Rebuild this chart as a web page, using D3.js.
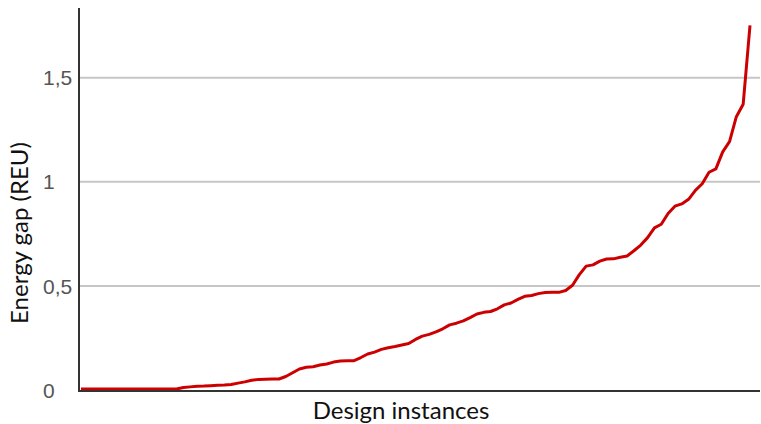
<!DOCTYPE html>
<html>
<head>
<meta charset="utf-8">
<script src="https://cdn.jsdelivr.net/npm/d3@7"></script>
<style>
  body { margin: 0; background: #fff; }
  svg { display: block; }
</style>
</head>
<body>
<svg id="chart"></svg>
<script>
// energy gap per design instance, sorted ascending
const instances = d3.range(1, 100)
const energyGap = [
  0.005, 0.005, 0.005, 0.005, 0.005, 0.005, 0.005, 0.005, 0.005, 0.005,
  0.005, 0.005, 0.005, 0.005, 0.005, 0.012, 0.015, 0.018, 0.019, 0.021,
  0.023, 0.024, 0.026, 0.033, 0.039, 0.047, 0.051, 0.052, 0.053, 0.053,
  0.065, 0.083, 0.101, 0.109, 0.112, 0.120, 0.125, 0.134, 0.139, 0.140,
  0.141, 0.156, 0.173, 0.182, 0.195, 0.203, 0.209, 0.216, 0.223, 0.243,
  0.259, 0.267, 0.279, 0.294, 0.313, 0.321, 0.332, 0.348, 0.365, 0.373,
  0.377, 0.390, 0.409, 0.418, 0.435, 0.450, 0.454, 0.463, 0.468, 0.469,
  0.469, 0.478, 0.503, 0.554, 0.595, 0.601, 0.619, 0.629, 0.630, 0.638,
  0.644, 0.669, 0.696, 0.732, 0.779, 0.796, 0.848, 0.883, 0.894, 0.916,
  0.959, 0.991, 1.046, 1.062, 1.144, 1.193, 1.313, 1.373, 1.752
]
const yTicks = [0, 0.5, 1, 1.5]
const xTitle = "Design instances"
const yTitle = "Energy gap (REU)"

const W = 761, H = 424
const margin = {top: 8, right: 1, bottom: 34, left: 79}
const width = W - margin.left - margin.right,
      height = H - margin.top - margin.bottom

const fmt = d => String(d).replace(".", ",")//comma decimals like the original

const x = d3.scaleLinear()
    .domain([1, instances.length])
    .range([2, width - 10])
const y = d3.scaleLinear()
    .domain([0, 1.835])
    .range([height, 0])

const svg = d3.select("#chart")
    .attr("width", W)
    .attr("height", H)
const chart = svg.append("g")
    .attr("transform", "translate(" + margin.left + "," + margin.top + ")")

// gridlines
chart.append("g")
  .selectAll("line")
  .data(yTicks.filter(d => d > 0))
  .enter().append("line")
    .attr("x1", 0)
    .attr("x2", width)
    .attr("y1", d => y(d))
    .attr("y2", d => y(d))
    .attr("stroke", "#c6c6c6")
    .attr("stroke-width", 2)

// y tick labels, left aligned like the source
const yAxis = d3.axisLeft(y).tickValues(yTicks).tickFormat(fmt).tickSize(0)
const gy = chart.append("g").call(yAxis)
gy.select(".domain").remove()
gy.selectAll("text")
    .attr("x", 43 - margin.left)
    .attr("text-anchor", "start")
    .attr("dy", "0.34em")
    .style("font-family", "'Liberation Sans', Arial, sans-serif")
    .style("font-size", "21px")
    .style("fill", "#555")

// the curve
const line = d3.line()
    .x((d, i) => x(instances[i]))
    .y(d => y(d))
chart.append("path")
    .datum(energyGap)
    .attr("fill", "none")
    .attr("stroke", "#cc0000")
    .attr("stroke-width", 3)
    .attr("stroke-linejoin", "round")
    .attr("d", line)

// axis lines
chart.append("line")
    .attr("x1", 0).attr("x2", 0)
    .attr("y1", 0).attr("y2", height + 1)
    .attr("stroke", "#333").attr("stroke-width", 2)
chart.append("line")
    .attr("x1", -1).attr("x2", width)
    .attr("y1", height + 1).attr("y2", height + 1)
    .attr("stroke", "#333").attr("stroke-width", 2)

// titles
chart.append("text")
    .attr("x", 401 - margin.left)
    .attr("y", height + 29)
    .attr("text-anchor", "middle")
    .style("font-family", "Lato, sans-serif")
    .style("font-size", "24px")
    .style("fill", "#111")
    .text(xTitle)
chart.append("text")
    .attr("transform", "translate(" + (28 - margin.left) + "," + (233 - margin.top) + ") rotate(-90)")
    .attr("text-anchor", "middle")
    .style("font-family", "Lato, sans-serif")
    .style("font-size", "24px")
    .style("fill", "#111")
    .text(yTitle)
</script>
</body>
</html>
